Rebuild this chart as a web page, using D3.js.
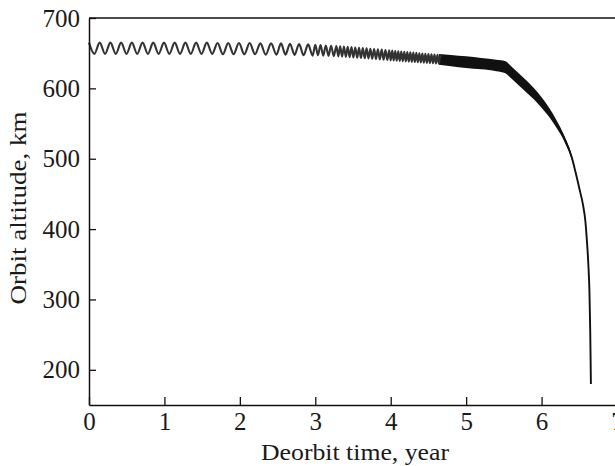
<!DOCTYPE html>
<html><head><meta charset="utf-8">
<script src="https://cdn.jsdelivr.net/npm/d3@7"></script>
<style>body{margin:0;background:#fff} svg{display:block} text{font-family:'Liberation Serif','Times New Roman',serif}</style>
</head><body><svg id="c" width="615" height="466"></svg>
<script>
const xTicks = [0, 1, 2, 3, 4, 5, 6, 7];
const yTicks = [200, 300, 400, 500, 600, 700];
const xTitle = "Deorbit time, year";
const yTitle = "Orbit altitude, km";

// Oscillation extrema (peaks / troughs)
const oscYears = [0,0.071,0.142,0.213,0.284,0.355,0.426,0.497,0.568,0.639,0.710,0.781,0.852,0.923,0.994,1.065,1.136,1.207,1.278,1.349,1.420,1.491,1.562,1.633,
  1.704,1.775,1.846,1.917,1.988,2.059,2.130,2.201,2.272,2.343,2.414,2.485,
  2.545,2.605,2.665,2.725,2.785,2.845,2.905,2.965,
  3.000,3.035,3.070,3.105,3.140,3.175,3.210,3.245,3.280,3.305,3.330,3.355,3.380,3.405,3.430,3.455,3.480,3.505,3.530,3.555,3.580,3.605,3.630,3.655,3.680,3.705,3.730,3.755,3.780,3.805,3.830,3.855,3.880,3.905,3.930,3.955,3.980,
  4.000,4.020,4.040,4.060,4.080,4.100,4.120,4.140,4.160,4.180,4.200,4.220,4.240,4.260,4.280,4.300,4.320,4.340,4.360,4.380,4.400,4.420,4.440,4.460,4.480,4.500,4.520,4.540,4.560,4.580,4.600,4.620,4.640,4.660];
const oscAlt = [665,649,665,649,665,649,665,649,665,649,665,649,665,649,665,649,665,649,665,649,665,649,665,649,
  664.5,648.5,664.5,648.5,664.5,648.5,664.5,648.5,664,648,664,648,
  664,648,663.5,647.5,663,647,662.5,646.5,
  662,647,661.5,646.5,661,646.2,660.6,645.8,660.2,645.4,659.8,645.0,659.4,644.8,659.0,644.4,658.6,644.0,658.0,643.6,657.6,643.2,657.2,642.8,656.8,642.4,656.2,642.0,655.8,641.6,655.4,641.2,655.0,640.8,654.6,640.4,654.2,
  639.8,653.6,639.5,653.2,639.2,652.8,638.9,652.4,638.6,652.0,638.3,651.6,638.0,651.2,637.7,650.8,637.4,650.4,637.1,650.0,636.8,649.6,636.5,649.2,636.2,648.8,635.9,648.4,635.6,648.0,635.3,647.6,635.0,647.2];

// Dense (unresolved) oscillation band: upper / lower edges
const bandYears = [4.64,4.8,5.0,5.2,5.4,5.52,5.60,5.70,5.80,5.90,6.00,6.10,6.20,6.30,6.40,6.45,6.50,6.55];
const bandUpper = [649,647.5,645.5,643,640.5,638.5,631,621,611,600,587.5,572.5,554.5,533,505,483,459.5,434.5];
const bandLower = [633.5,631.5,629,627,624.5,621.5,614,604,594,584,572.5,559.5,543.5,525,499,479,456.5,433.5];

// Mean decay path
const centerYears = [4.66,4.8,5.0,5.2,5.4,5.52,5.60,5.70,5.80,5.90,6.00,6.10,6.20,6.30,6.40,6.45,6.50,6.55,6.58,6.60,6.62,6.635,6.645,6.650,6.654];
const centerAlt = [641,639.5,637.2,635,632.5,630,622.5,612.5,602.5,592,580,566,549,529,502,481,458,434,412,385,350,310,255,215,180];

const svg = d3.select("#c");
const x = d3.scaleLinear().domain([0, 7]).range([89, 617]);
const y = d3.scaleLinear().domain([150, 700]).range([405, 18]);
const font = "'Liberation Serif', 'Times New Roman', serif";

const osc = oscYears.map((t, i) => [t, oscAlt[i]]);
const band = bandYears.map((t, i) => ({t, u: bandUpper[i], l: bandLower[i]}));
const center = centerYears.map((t, i) => [t, centerAlt[i]]);

svg.append("path")
  .attr("d", d3.area().x(d => x(d.t)).y0(d => y(d.l)).y1(d => y(d.u)).curve(d3.curveMonotoneX)(band))
  .attr("fill", "#111");
svg.append("path")
  .attr("d", d3.line().x(d => x(d[0])).y(d => y(d[1])).curve(d3.curveMonotoneX)(osc))
  .attr("fill", "none").attr("stroke", "#333").attr("stroke-width", 2.1);
svg.append("path")
  .attr("d", d3.line().x(d => x(d[0])).y(d => y(d[1])).curve(d3.curveMonotoneX)(center))
  .attr("fill", "none").attr("stroke", "#111").attr("stroke-width", 1.9);

const gx = svg.append("g").attr("transform", "translate(0,405)")
  .call(d3.axisBottom(x).tickValues(xTicks).tickFormat(d3.format("d")).tickSizeInner(-8).tickSizeOuter(0).tickPadding(7));
const gy = svg.append("g").attr("transform", "translate(89,0)")
  .call(d3.axisLeft(y).tickValues(yTicks).tickFormat(d3.format("d")).tickSizeInner(-7).tickSizeOuter(0).tickPadding(9));
[gx, gy].forEach(g => {
  g.attr("font-family", font).attr("font-size", 25);
  g.select(".domain").attr("stroke", "#111").attr("stroke-width", 1.5);
  g.selectAll(".tick line").attr("stroke", "#111").attr("stroke-width", 1.3);
  g.selectAll(".tick text").attr("fill", "#1a1a1a").attr("font-family", font).style("font-family", font).style("font-size", "25px");
});
svg.append("line").attr("x1", 89).attr("x2", 617).attr("y1", 18).attr("y2", 18)
  .attr("stroke", "#111").attr("stroke-width", 1.5);

svg.append("text").attr("x", 355).attr("y", 460).attr("text-anchor", "middle")
  .style("font-family", font).style("font-size", "24px").attr("fill", "#1a1a1a")
  .attr("textLength", 188).attr("lengthAdjust", "spacingAndGlyphs").text(xTitle);
svg.append("text").attr("transform", "translate(26,208) rotate(-90)").attr("text-anchor", "middle")
  .style("font-family", font).style("font-size", "24px").attr("fill", "#1a1a1a")
  .attr("textLength", 193).attr("lengthAdjust", "spacingAndGlyphs").text(yTitle);
</script></body></html>
